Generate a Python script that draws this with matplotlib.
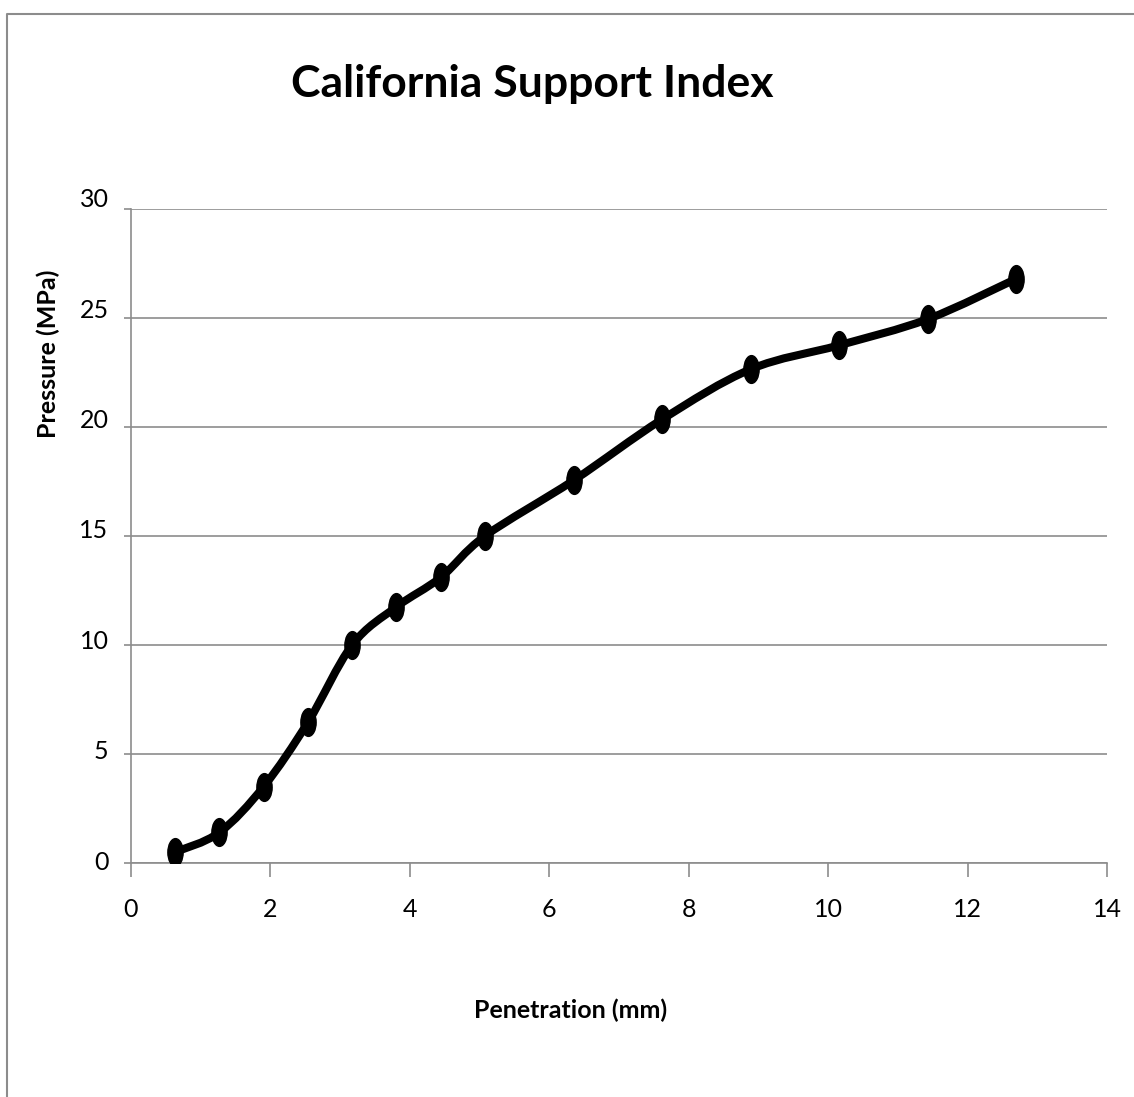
import numpy as np
import matplotlib
matplotlib.use('Agg')
import matplotlib.pyplot as plt
from matplotlib.path import Path
from matplotlib.patches import PathPatch
from matplotlib.lines import Line2D
from matplotlib.transforms import ScaledTranslation

plt.rcParams['font.family'] = ['Lato', 'DejaVu Sans']

# 贯入量 (mm) 和 压力 (MPa)
penetration = [0.635, 1.27, 1.905, 2.54, 3.175, 3.81, 4.445, 5.08, 6.35, 7.62, 8.89, 10.16, 11.43, 12.7]
pressure = [0.5, 1.4, 3.5, 6.45, 10.0, 11.75, 13.1, 15.0, 17.55, 20.35, 22.65, 23.75, 24.95, 26.8]
x_ticks = [0, 2, 4, 6, 8, 10, 12, 14]
y_ticks = [0, 5, 10, 15, 20, 25, 30]

grey = '#8c8c8c'


def smooth_path(xs, ys):
    # Excel 风格的平滑线 (Bezier)
    P = np.column_stack([xs, ys])
    n = len(P)
    verts = [P[0]]
    codes = [Path.MOVETO]
    for i in range(n - 1):
        p0 = P[i - 1] if i > 0 else P[i]
        p1 = P[i]
        p2 = P[i + 1]
        p3 = P[i + 2] if i + 2 < n else P[i + 1]
        c1 = p1 + (p2 - p0) / 6.0
        c2 = p2 - (p3 - p1) / 6.0
        verts += [c1, c2, p2]
        codes += [Path.CURVE4] * 3
    return Path(verts, codes)


fig = plt.figure(figsize=(11.34, 10.97), dpi=100)
ax = fig.add_axes([0.1153, 0.2133, 0.8609, 0.5962])

ax.set_xlim(0, 14)
ax.set_ylim(0, 30)
ax.set_xticks(x_ticks)
ax.set_yticks(y_ticks)

ax.yaxis.grid(True, color=grey, lw=1.2)
ax.set_axisbelow(True)
for s in ['top', 'right']:
    ax.spines[s].set_visible(False)
for s in ['left', 'bottom']:
    ax.spines[s].set_color(grey)
    ax.spines[s].set_linewidth(1.2)

ax.tick_params(axis='x', direction='out', length=10, width=1.2, color=grey, pad=15, labelsize=18)
ax.tick_params(axis='y', direction='out', length=5, width=1.2, color=grey, pad=11, labelsize=18)

patch = PathPatch(smooth_path(penetration, pressure), fill=False, ec='black', lw=5.8,
                  capstyle='round', joinstyle='round', zorder=3)
ax.add_patch(patch)

# 椭圆形标记
circ = Path.unit_circle()
ell = Path(circ.vertices * np.array([0.55, 1.0]), circ.codes)
ax.plot(penetration, pressure, ls='none', marker=ell, markersize=20,
        color='black', zorder=4)

fig.text(0.469, 0.9116, 'California Support Index', ha='center', va='baseline',
         fontsize=32, fontweight='bold')
fig.text(0.5035, 0.0793, 'Penetration (mm)', ha='center', va='center',
         fontsize=18, fontweight='bold')
fig.text(0.0423, 0.6773, 'Pressure (MPa)', ha='center', va='center', rotation=90,
         fontsize=18, fontweight='bold')

# 外框 (只有左边和上边可见)
fig.add_artist(Line2D([7 / 1134, 7 / 1134, 1.0], [0.0, 1 - 14 / 1097, 1 - 14 / 1097],
                      transform=fig.transFigure, color=grey, lw=1.5))

fig.canvas.draw()
for tick, v in zip(ax.yaxis.get_major_ticks(), y_ticks):
    dy = (3 + 8 * v / 30.0) / 100.0
    tick.label1.set_transform(tick.label1.get_transform() + ScaledTranslation(0, dy, fig.dpi_scale_trans))

fig.savefig('out.png', dpi=100)
